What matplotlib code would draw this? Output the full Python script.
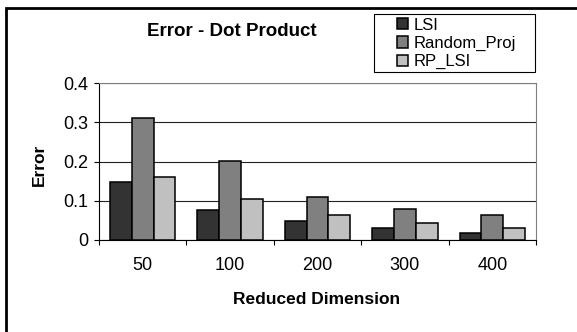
import numpy as np
import matplotlib
matplotlib.use('Agg')
import matplotlib.pyplot as plt
from matplotlib.patches import Rectangle

plt.rcParams['font.family'] = ['Liberation Sans', 'DejaVu Sans']

dims = ['50', '100', '200', '300', '400']
lsi = [0.147, 0.076, 0.048, 0.031, 0.018]
random_proj = [0.310, 0.202, 0.109, 0.080, 0.063]
rp_lsi = [0.160, 0.105, 0.064, 0.043, 0.031]

series = [('LSI', lsi, '#333333'),
          ('Random_Proj', random_proj, '#808080'),
          ('RP_LSI', rp_lsi, '#c0c0c0')]

W, H = 577, 332
fig = plt.figure(figsize=(W / 100, H / 100), dpi=100)
ax = fig.add_axes([99 / W, 1 - 240 / H, 437 / W, 157 / H])

x = np.arange(len(dims))
w = 0.25
for i, (name, vals, col) in enumerate(series):
    ax.bar(x + (i - 1) * w, vals, w, color=col, edgecolor='black', linewidth=1.1,
           label=name, zorder=3)

ax.set_xlim(-0.5, len(dims) - 0.5)
ax.set_ylim(0, 0.4)
ax.set_yticks([0, 0.1, 0.2, 0.3, 0.4])
ax.set_yticklabels(['0', '0.1', '0.2', '0.3', '0.4'])
ax.set_xticks(x)
ax.set_xticklabels(dims)
ax.set_xticks(np.arange(-0.5, len(dims)), minor=True)
ax.tick_params(axis='x', which='major', length=0, pad=12, labelsize=13)
ax.tick_params(axis='x', which='minor', length=3.5, width=0.8, direction='out')
ax.tick_params(axis='y', length=3.6, width=0.8, direction='out', labelsize=13, pad=4)

ax.yaxis.grid(True, color='#222222', linewidth=0.8, zorder=0)
ax.spines['left'].set_color('black')
ax.spines['bottom'].set_color('black')
ax.spines['top'].set_color('#808080')
ax.spines['right'].set_color('#808080')

fig.text(39 / W, 1 - 165 / H, 'Error', rotation=90, ha='center', va='center',
         fontweight='bold', fontsize=12.5)
fig.text(317 / W, 1 - 300 / H, 'Reduced Dimension', ha='center', va='center',
         fontweight='bold', fontsize=12.5)
fig.text(232 / W, 1 - 31 / H, 'Error - Dot Product', ha='center', va='center',
         fontweight='bold', fontsize=13.5)

leg = ax.legend(loc='upper left', bbox_to_anchor=(395 / W, 1 - 16 / H),
                bbox_transform=fig.transFigure, borderaxespad=0, frameon=False,
                fontsize=12, handlelength=0.65, handleheight=0.65, handletextpad=0.35,
                labelspacing=0.19, borderpad=0.1)

fig.patches.append(Rectangle((374 / W, 1 - 72 / H), 161 / W, 58 / H, transform=fig.transFigure,
                             fill=False, edgecolor='black', linewidth=0.8))
fig.patches.append(Rectangle((6 / W, -0.1), 1.2, 1.1 - 8 / H, transform=fig.transFigure,
                             fill=False, edgecolor='black', linewidth=2, clip_on=False))

fig.savefig('out.png', dpi=100)
